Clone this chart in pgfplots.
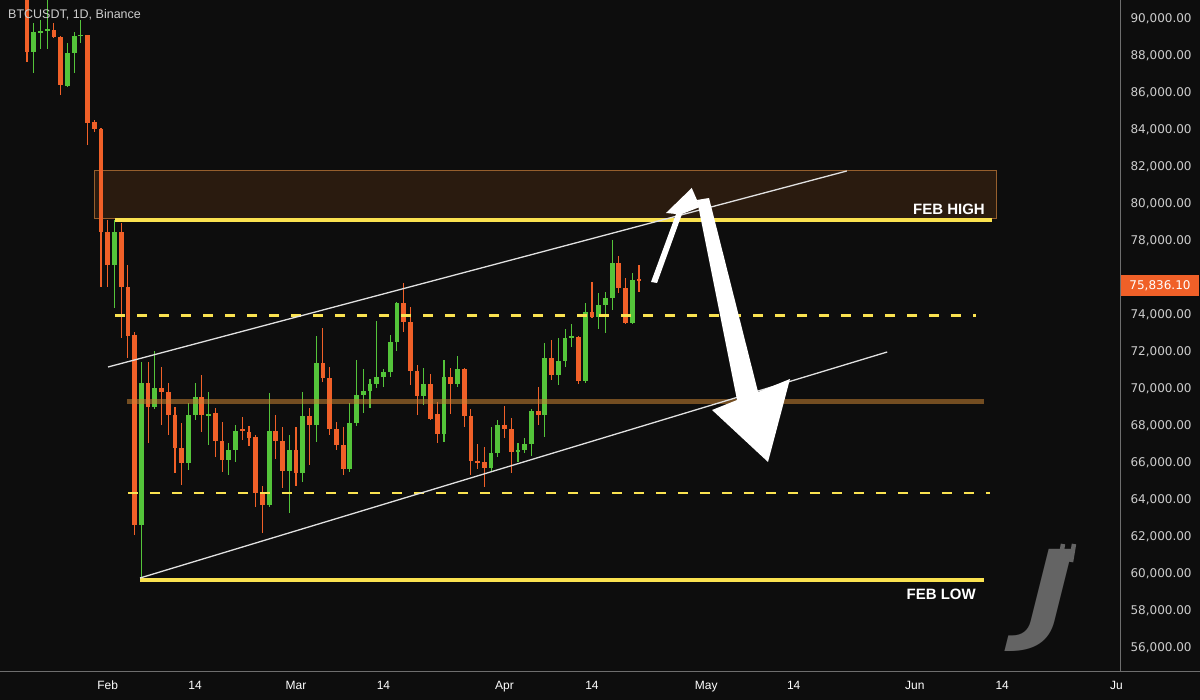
\documentclass[border=0pt]{standalone}
\usepackage{pgfplots}
\usepackage{pgfplotstable}
\usepackage{fontspec}
\usetikzlibrary{backgrounds}
\pgfplotsset{compat=1.18}
\setmainfont{Liberation Sans}
\newfontfamily\dejavu{DejaVu Sans}
\definecolor{bg}{RGB}{13,13,13}
\definecolor{cg}{RGB}{84,196,58}
\definecolor{co}{RGB}{240,96,40}
\definecolor{yel}{RGB}{250,226,80}
\definecolor{boxfill}{RGB}{42,27,15}
\definecolor{boxedge}{RGB}{150,95,45}
\definecolor{band}{RGB}{200,130,50}
\definecolor{lbl}{RGB}{205,205,205}
\definecolor{sep}{RGB}{110,110,110}
\definecolor{logo}{RGB}{100,100,100}
\definecolor{chan}{RGB}{225,225,225}

\pgfplotstableread{
x o h l c
-10 88216 89784 87081 89297
-9 89243 89946 88378 89351
-8 89351 91027 88378 89460
-5 86378 88703 86324 88162
-4 88162 89297 87081 89081
-3 89100 89946 88703 89160
2 76703 79150 74378 78486
6 62649 71460 59750 70324
8 69027 72054 68900 70054
13 66000 69243 65622 68595
14 68595 70324 68324 69568
16 68541 69838 66973 68650
19 66162 67081 65351 66703
20 66703 68054 66054 67730
25 63730 69784 63622 67730
28 65568 67514 63297 66703
30 65459 69838 64973 68541
32 68054 72838 67135 71432
37 65676 69243 65514 68162
38 68162 71568 68000 69676
39 69676 71081 68703 69892
40 69892 70541 68973 70270
41 70270 73676 70054 70649
42 70649 71081 70108 70919
43 70919 72919 70649 72541
44 72541 74700 72054 74649
48 69622 71135 69135 70270
51 67568 71568 67135 70649
53 70270 71757 70108 71081
58 65730 67946 65514 66541
59 66541 68324 66324 68054
62 66595 67081 66054 66703
63 66703 67351 66541 67027
64 67027 68919 66378 68811
66 68595 72486 67405 71676
68 70757 72757 70216 71514
69 71514 73243 71189 72757
70 72757 73514 72270 72840
72 70432 74649 70324 74162
74 73892 75189 73243 74541
75 74541 75243 73027 74919
76 74919 78054 74270 76811
79 73568 76270 73514 75900
}\greendata

\pgfplotstableread{
x o h l c
-11 91027 91027 87676 88216
-7 89405 89784 88973 89027
-6 89027 89081 85894 86432
-2 89135 89150 83189 84378
-1 84432 84541 83900 84054
0 84054 84100 75500 78486
1 78486 79135 75514 76703
3 78486 78973 72757 75514
4 75514 76703 71676 72865
5 72900 73081 62108 62649
7 70324 71460 67081 69027
9 70054 71189 68054 69840
10 69838 70324 67514 68595
11 68595 69027 65459 66811
12 66811 68162 64811 66000
15 69568 70757 67676 68595
17 68703 68973 66324 67189
18 67189 68216 65514 66162
21 67838 68486 67243 67730
22 67676 68000 66919 67351
23 67405 67500 63622 64378
24 64378 64757 62216 63730
26 67730 68595 66216 67189
27 67189 67946 64649 65568
29 66703 67946 64757 65459
31 68541 68973 65892 68054
33 71432 73297 70378 70595
34 70595 71189 67514 67838
35 67838 68216 66703 66973
36 66973 67946 65351 65676
45 74649 75730 73081 73622
46 73622 74432 70216 70973
47 70973 71297 68595 69622
49 70270 70811 68324 68378
50 68649 69297 67081 67568
52 70649 71135 68649 70270
54 71081 71135 67946 68541
55 68541 68919 65351 66108
56 66108 67027 65676 66030
57 66054 66865 64703 65730
60 68054 69081 67351 67838
61 67838 68432 65459 66595
65 68811 70108 68054 68595
67 71676 72649 70486 70757
71 72811 72865 70270 70432
73 74162 75784 73838 73892
77 76811 77189 75189 75459
78 75459 76000 73514 73568
80 75950 76703 75243 75836.1
}\orangedata

\begin{document}
\begin{tikzpicture}[x=1pt,y=1pt]
\begin{axis}[
  scale only axis, width=1120pt, height=672pt,
  xmin=-15.02, xmax=151.52, ymin=54703, ymax=91027,
  axis line style={draw=none},
  major tick length=0pt,
  xtick={1,14,29,42,60,73,90,103,121,134,151},
  xticklabels={Feb,14,Mar,14,Apr,14,May,14,Jun,14,Ju},
  xticklabel style={font=\fontsize{12}{14}\selectfont, text=white, text height=9pt, text depth=2pt, yshift=-5pt},
  ytick={56000,58000,60000,62000,64000,66000,68000,70000,72000,74000,78000,80000,82000,84000,86000,88000,90000},
  yticklabel pos=right,
  scaled y ticks=false,
  yticklabel style={font=\dejavu\fontsize{12}{14}\selectfont, text=lbl, anchor=west, xshift=7pt,
    /pgf/number format/.cd, fixed, fixed zerofill, precision=2, 1000 sep={,}, assume math mode=true},
]
\coordinate (LL) at (rel axis cs:0,0);
% resistance box
\draw[fill=boxfill, draw=boxedge, line width=1pt] (axis cs:-1.04,79200) rectangle (axis cs:133.1,81800);

% wicks
\addplot[draw=none, mark=none, forget plot, error bars/.cd, y dir=both, y explicit, error mark=none,
  error bar style={line width=1.1pt, draw=cg}]
  table[x=x, y expr={(\thisrow{h}+\thisrow{l})/2}, y error expr={(\thisrow{h}-\thisrow{l})/2}] {\greendata};
\addplot[draw=none, mark=none, forget plot, error bars/.cd, y dir=both, y explicit, error mark=none,
  error bar style={line width=1.1pt, draw=co}]
  table[x=x, y expr={(\thisrow{h}+\thisrow{l})/2}, y error expr={(\thisrow{h}-\thisrow{l})/2}] {\orangedata};
% bodies
\addplot[draw=none, mark=none, forget plot, error bars/.cd, y dir=both, y explicit, error mark=none,
  error bar style={line width=4.8pt, draw=cg}]
  table[x=x, y expr={(\thisrow{o}+\thisrow{c})/2}, y error expr={abs(\thisrow{o}-\thisrow{c})/2}] {\greendata};
\addplot[draw=none, mark=none, forget plot, error bars/.cd, y dir=both, y explicit, error mark=none,
  error bar style={line width=4.8pt, draw=co}]
  table[x=x, y expr={(\thisrow{o}+\thisrow{c})/2}, y error expr={abs(\thisrow{o}-\thisrow{c})/2}] {\orangedata};

% horizontal levels
\addplot[yel, line width=4pt] coordinates {(2.08,79150) (132.5,79150)};
\addplot[yel, line width=4pt] coordinates {(5.8,59700) (131.3,59700)};
\addplot[yel, line width=2.6pt, dash pattern=on 10pt off 12pt] coordinates {(2.08,73980) (130.1,73980)};
\addplot[yel, line width=2.6pt, dash pattern=on 10pt off 12pt] coordinates {(4.0,64380) (132.2,64380)};
\addplot[band, opacity=0.55, line width=5pt] coordinates {(3.87,69300) (131.3,69300)};

% channel
\addplot[chan, line width=1.3pt] coordinates {(1.04,71189) (110.9,81784)};
\addplot[chan, line width=1.3pt] coordinates {(5.8,59784) (116.9,72000)};

% arrows
\fill[white] (axis cs:81.78,75784) -- (axis cs:82.68,75730) -- (axis cs:86.39,79459) -- (axis cs:89.07,79838)
  -- (axis cs:87.84,80865) -- (axis cs:84.01,79514) -- (axis cs:85.50,79459) -- cycle;
\fill[white] (axis cs:88.62,80216) -- (axis cs:90.41,80324) -- (axis cs:97.70,69838) -- (axis cs:102.45,70541)
  -- (axis cs:99.18,66054) -- (axis cs:90.86,68865) -- (axis cs:94.57,69405) -- cycle;
\end{axis}

\begin{scope}[shift={(LL)}]
\begin{scope}[on background layer]
\fill[bg] (0,-28) rectangle (1200,672);
\end{scope}
% separators
\draw[sep, line width=1pt] (0,0) -- (1200,0);
\draw[sep, line width=1pt] (1120.5,0) -- (1120.5,672);

% labels
\node[anchor=west, text=lbl, font=\fontsize{12.5}{14}\selectfont, inner sep=0pt] at (8,657) {BTCUSDT, 1D, Binance};
\node[anchor=east, text=white, font=\fontsize{15}{17}\selectfont\bfseries, inner sep=0pt] at (985,463) {FEB HIGH};
\node[anchor=east, text=white, font=\fontsize{15}{17}\selectfont\bfseries, inner sep=0pt] at (976,78) {FEB LOW};

% current price tag
\fill[co] (1121,376) rectangle (1199,397);
\node[text=white, font=\dejavu\fontsize{12}{14}\selectfont, inner sep=0pt] at (1160,386.5) {75,836.10};

% watermark logo
\node[text=logo, font=\dejavu\fontsize{110}{120}\selectfont\bfseries, inner sep=0pt, xslant=0.25, xscale=1.15, transform shape] at (1048,72) {J};
\draw[logo, line width=4.5pt] (1060,110) -- (1063,128);
\draw[logo, line width=4.5pt] (1071,110) -- (1074,128);

\pgfresetboundingbox
\useasboundingbox (0,-28) rectangle (1200,672);
\end{scope}
\end{tikzpicture}
\end{document}
